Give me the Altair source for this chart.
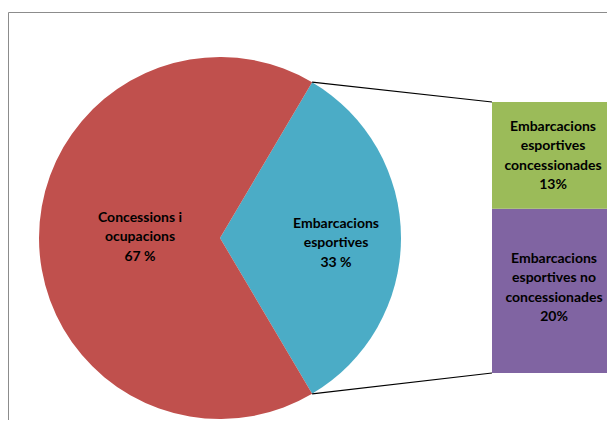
import math
import altair as alt
import pandas as pd

# ---- data ----
pie_labels = ["Concessions i\nocupacions\n67 %", "Embarcacions\nesportives\n33 %"]
pie_values = [67, 33]
pie_colors = ["#C0504D", "#4BACC6"]

bar_labels = ["Embarcacions\nesportives\nconcessionades\n13%",
              "Embarcacions\nesportives no\nconcessionades\n20%"]
bar_values = [13, 20]
bar_colors = ["#9BBB59", "#8064A2"]

# ---- layout (pixels, chart coordinates) ----
W, H = 599, 412
CX, CY, R = 212, 230, 181
BAR_X0, BAR_X1 = 484, W
BAR_TOP, BAR_BOTTOM = 94, 365
FONT = "Lato"
FS, LH = 14, 19.5

total = sum(pie_values)
split_share = pie_values[1] / total
half = math.pi * split_share
start = math.pi / 2 - half  # split slice centred at 3 o'clock

pie_df = pd.DataFrame({
    "label": [pie_labels[1], pie_labels[0]],
    "value": [pie_values[1], pie_values[0]],
    "order": [0, 1],
})
all_labels = pie_labels + bar_labels
all_colors = pie_colors + bar_colors
color_scale = alt.Scale(domain=all_labels, range=all_colors)

pie = alt.Chart(pie_df).mark_arc(outerRadius=R, stroke=None).encode(
    theta=alt.Theta("value:Q", stack=True,
                    scale=alt.Scale(range=[start, start + 2 * math.pi])),
    order=alt.Order("order:Q"),
    color=alt.Color("label:N", scale=color_scale, legend=None),
    x=alt.value(CX), y=alt.value(CY),
)

# stacked bar: bottom segment first
bar_df = pd.DataFrame({
    "label": [bar_labels[1], bar_labels[0]],
    "value": [bar_values[1], bar_values[0]],
})
bar_df["end"] = bar_df["value"].cumsum()
bar_df["start"] = bar_df["end"] - bar_df["value"]
bar = alt.Chart(bar_df).mark_rect().encode(
    x=alt.value(BAR_X0), x2=alt.value(BAR_X1 + 10),
    y=alt.Y("start:Q", axis=None,
            scale=alt.Scale(domain=[0, sum(bar_values)], range=[BAR_BOTTOM, BAR_TOP])),
    y2="end:Q",
    color=alt.Color("label:N", scale=color_scale, legend=None),
)

xs = alt.Scale(domain=[0, W], range=[0, W])
ys = alt.Scale(domain=[0, H], range=[0, H])

px = CX + R * math.cos(half)
py_top = CY - R * math.sin(half)
py_bot = CY + R * math.sin(half)
conn_df = pd.DataFrame({
    "x": [px, px], "y": [py_top, py_bot],
    "x2": [BAR_X0, BAR_X0], "y2": [BAR_TOP, BAR_BOTTOM],
})
connectors = alt.Chart(conn_df).mark_rule(color="black", strokeWidth=1.2).encode(
    x=alt.X("x:Q", scale=xs, axis=None), y=alt.Y("y:Q", scale=ys, axis=None),
    x2="x2:Q", y2="y2:Q",
)

frame = alt.Chart(pd.DataFrame({"a": [0]})).mark_rect(
    fill=None, stroke="#8c8c8c", strokeWidth=1
).encode(x=alt.value(0.5), x2=alt.value(W + 20), y=alt.value(4.5), y2=alt.value(H + 20))

# label positions (layout): centre of each text block
texts = [pie_labels[0], pie_labels[1], bar_labels[0], bar_labels[1]]
centres_x = [CX - 80, CX + 116, 545, 546]
centres_y = [CY - 1, CY + 5, 148, 280]
first_y = [cy - (t.count("\n")) * LH / 2 for t, cy in zip(texts, centres_y)]
lab_df = pd.DataFrame({"text": texts, "x": centres_x, "y": first_y})
labels = alt.Chart(lab_df).mark_text(
    font=FONT, fontSize=FS, fontWeight="bold", color="black",
    lineBreak="\n", lineHeight=LH, align="center", baseline="middle",
).encode(
    x=alt.X("x:Q", scale=xs, axis=None), y=alt.Y("y:Q", scale=ys, axis=None),
    text="text:N",
)

chart = alt.layer(frame, pie, connectors, bar, labels).resolve_scale(
    x="independent", y="independent", theta="independent"
).properties(
    width=W, height=H, padding=0,
    autosize=alt.AutoSizeParams(type="none"), background="white",
).configure_view(stroke=None)

chart.save("out.html", embed_options={"renderer": "svg", "actions": False})
